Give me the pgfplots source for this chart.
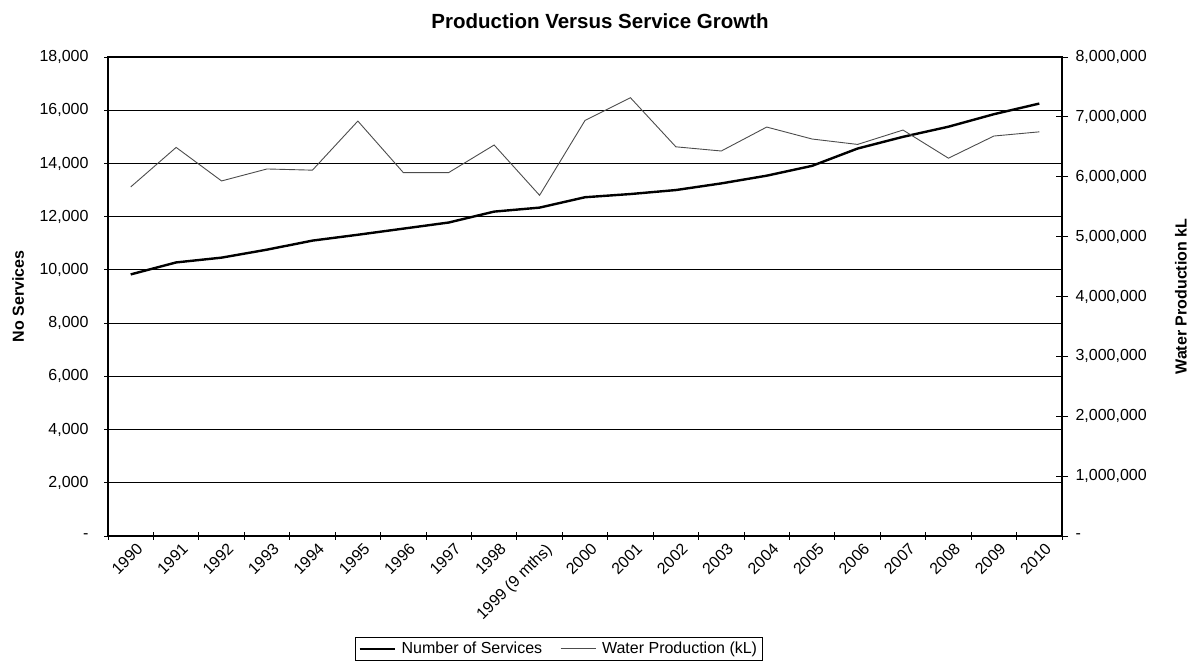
\documentclass[border=0pt]{standalone}
\usepackage{fontspec}
\setmainfont{Liberation Sans}
\usepackage{pgfplots}
\pgfplotsset{compat=1.18}
\begin{document}
\begin{tikzpicture}[x=1pt,y=1pt]
\useasboundingbox (0,0) rectangle (1199,666);
\node[font=\fontsize{20.5}{20.5}\selectfont\bfseries] at (600,645) {Production Versus Service Growth};
\begin{axis}[
  at={(108pt,130pt)}, anchor=south west, scale only axis,
  width=954pt, height=479pt,
  xmin=-0.5, xmax=20.5, ymin=0, ymax=18000,
  xtick={0,...,20},
  xticklabels={1990,1991,1992,1993,1994,1995,1996,1997,1998,{1999 (9 mths)},2000,2001,2002,2003,2004,2005,2006,2007,2008,2009,2010},
  major x tick style={draw=none},
  minor xtick={-0.5,0.5,...,20.5},
  minor x tick style={black, line width=0.8pt},
  minor tick length=8pt,
  major tick length=8pt,
  tick align=center,
  xtick pos=bottom, ytick pos=left,
  scaled y ticks=false,
  ytick={0,2000,...,18000},
  yticklabels={-,{2,000},{4,000},{6,000},{8,000},{10,000},{12,000},{14,000},{16,000},{18,000}},
  ymajorgrids, grid style={black, line width=0.9pt},
  axis line style={black, line width=1.1pt},
  ytick style={black, line width=0.8pt},
  tick label style={font=\fontsize{16}{16}\selectfont},
  yticklabel style={xshift=-12pt},
  xticklabel style={rotate=45, anchor=north east, font=\fontsize{16}{16}\selectfont, inner sep=1pt, yshift=-4pt, xshift=3pt},
  ylabel={No Services},
  ylabel style={at={(axis description cs:-0.0943,0.5)}, anchor=center, font=\fontsize{16}{16}\selectfont\bfseries},
  clip=false,
]
\addplot[black, line width=2.4pt] coordinates {
(0,9830) (1,10280) (2,10460) (3,10760) (4,11100) (5,11320) (6,11550) (7,11780) (8,12190) (9,12340) (10,12730)
(11,12850) (12,13000) (13,13250) (14,13540) (15,13910) (16,14560) (17,15000) (18,15380) (19,15850) (20,16250)};
\end{axis}
\begin{axis}[
  at={(108pt,130pt)}, anchor=south west, scale only axis,
  width=954pt, height=479pt,
  xmin=-0.5, xmax=20.5, ymin=0, ymax=8000000,
  axis x line=none, axis y line*=right,
  axis line style={black, line width=1.1pt},
  ytick={0,1000000,...,8000000},
  yticklabels={-,{1,000,000},{2,000,000},{3,000,000},{4,000,000},{5,000,000},{6,000,000},{7,000,000},{8,000,000}},
  scaled y ticks=false,
  major tick length=12pt, tick align=center,
  ytick style={black, line width=0.8pt},
  tick label style={font=\fontsize{16}{16}\selectfont},
  yticklabel style={xshift=4pt},
  ylabel={Water Production kL},
  ylabel style={at={(axis description cs:1.1247,0.5)}, anchor=center, font=\fontsize{16}{16}\selectfont\bfseries},
  legend style={at={(axis description cs:0.259,-0.2104)}, anchor=north west, legend columns=2, draw=black, line width=0.8pt,
    font=\fontsize{16}{16}\selectfont, inner sep=3pt,
    /tikz/every odd column/.append style={column sep=4pt},
    /tikz/every even column/.append style={column sep=16pt}},
  legend image code/.code={\draw[#1] (0pt,0pt) -- (35pt,0pt);},
  clip=false,
]
\addlegendimage{black, line width=2.2pt}
\addlegendentry{Number of Services}
\addplot[black!70, line width=0.9pt] coordinates {
(0,5830000) (1,6490000) (2,5930000) (3,6130000) (4,6110000) (5,6930000) (6,6070000) (7,6070000) (8,6530000) (9,5690000) (10,6940000)
(11,7320000) (12,6500000) (13,6430000) (14,6830000) (15,6630000) (16,6540000) (17,6780000) (18,6310000) (19,6680000) (20,6750000)};
\addlegendentry{Water Production (kL)}
\end{axis}
\end{tikzpicture}
\end{document}
